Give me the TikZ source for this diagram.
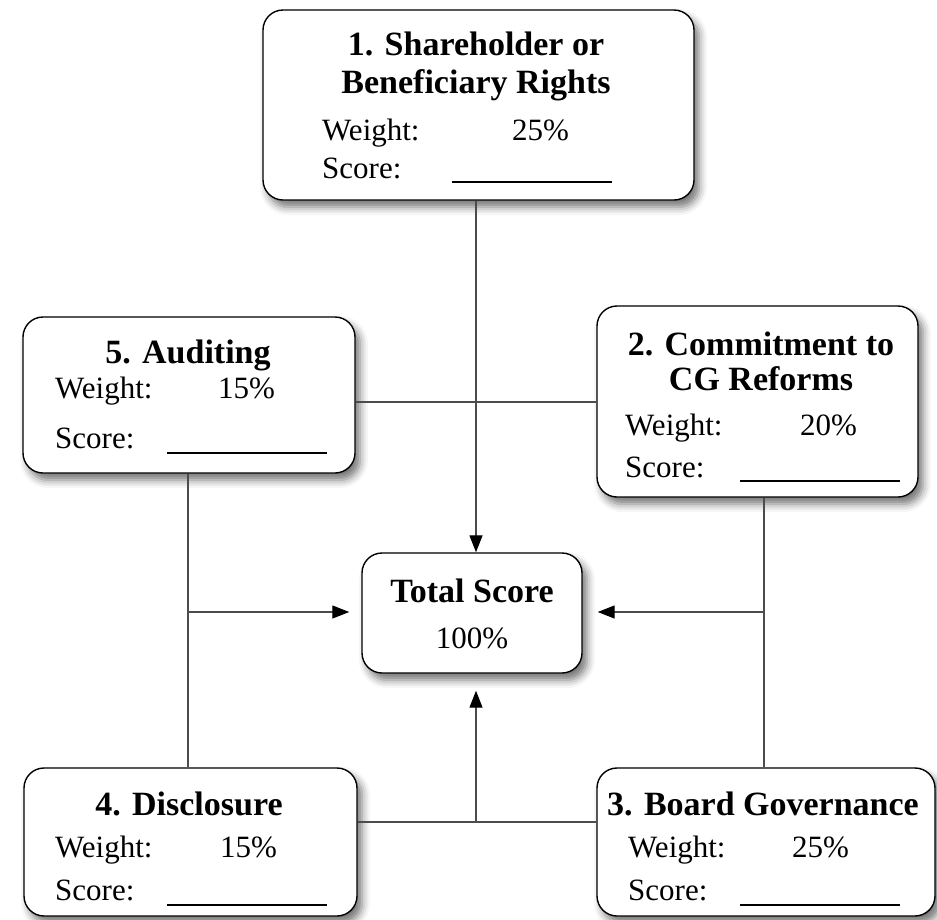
\documentclass[tikz,border=0pt]{standalone}
\usepackage{fontspec}
\setmainfont{Liberation Serif}
\usetikzlibrary{arrows.meta,shadows.blur}
\begin{document}
\begin{tikzpicture}[x=1pt,y=-1pt,
  box/.style={draw=black, line width=1.4pt, fill=white, rounded corners=20pt, inner sep=0pt,
    blur shadow={shadow xshift=5pt, shadow yshift=-7pt, shadow blur radius=8pt, shadow opacity=55}},
  ttl/.style={font=\fontsize{34}{38}\bfseries\selectfont, inner sep=0pt, anchor=base},
  txt/.style={font=\fontsize{31}{36}\selectfont, inner sep=0pt, anchor=base west},
  conn/.style={draw=black!70, line width=1.3pt},
  arr/.style={conn, -{Triangle[length=17pt,width=13pt,fill=black,color=black]}},
  blank/.style={draw=black, line width=1.3pt}
]
\useasboundingbox (0,0) rectangle (937,919);

% boxes
\node[box, minimum width=431pt, minimum height=190pt] (b1) at (478.5,105) {};
\node[box, minimum width=332pt, minimum height=156pt] (b5) at (189,395) {};
\node[box, minimum width=321pt, minimum height=191pt] (b2) at (757.5,401.5) {};
\node[box, minimum width=220pt, minimum height=120pt] (tot) at (472,613) {};
\node[box, minimum width=333pt, minimum height=148pt] (b4) at (190.5,842) {};
\node[box, minimum width=338pt, minimum height=148pt] (b3) at (766,842) {};

% helper coordinates
\coordinate (h1) at (0,402);
\coordinate (h2) at (0,822);
\coordinate (vl) at (188,0);
\coordinate (vm) at (476,0);
\coordinate (vr) at (764,0);

% connectors
\draw[arr] (vm |- b1.south) -- (vm |- tot.north);
\draw[conn] (b5.east |- h1) -- (b2.west |- h1);
\draw[conn] (vl |- b5.south) -- (vl |- b4.north);
\draw[arr, shorten >=12pt] (vl |- 0,612) -- (tot.west |- 0,612);
\draw[conn] (vr |- b2.south) -- (vr |- b3.north);
\draw[arr, shorten >=15pt] (vr |- 0,612) -- (tot.east |- 0,612);
\draw[conn] (b4.east |- h2) -- (b3.west |- h2);
\draw[arr, shorten >=17pt] (vm |- h2) -- (vm |- tot.south);

% box 1
\node[ttl] (t1a) at (476,55) {1. Shareholder or};
\node[ttl] (t1b) at (476,93) {Beneficiary Rights};
\node[txt] (w1) at (322,140) {Weight:};
\node[txt] (p1) at (512,140) {25\%};
\node[txt] (s1) at (322,178) {Score:};
\draw[blank] (452,182) -- (612,182);

% box 5
\node[ttl] (t5) at (188,363) {5. Auditing};
\node[txt] (w5) at (55,398) {Weight:};
\node[txt] (p5) at (218,398) {15\%};
\node[txt] (s5) at (55,448) {Score:};
\draw[blank] (167,453) -- (327,453);

% box 2
\node[ttl] (t2a) at (761,355) {2. Commitment to};
\node[ttl] (t2b) at (761,390) {CG Reforms};
\node[txt] (w2) at (625,435) {Weight:};
\node[txt] (p2) at (800,435) {20\%};
\node[txt] (s2) at (625,477) {Score:};
\draw[blank] (740,481) -- (900,481);

% total
\node[ttl] (tt) at (472,602) {Total Score};
\node[txt, anchor=base] (tp) at (472,648) {100\%};

% box 4
\node[ttl] (t4) at (189,815) {4. Disclosure};
\node[txt] (w4) at (55,857) {Weight:};
\node[txt] (p4) at (220,857) {15\%};
\node[txt] (s4) at (55,900) {Score:};
\draw[blank] (167,905) -- (327,905);

% box 3
\node[ttl] (t3) at (763,815) {3. Board Governance};
\node[txt] (w3) at (628,857) {Weight:};
\node[txt] (p3) at (792,857) {25\%};
\node[txt] (s3) at (628,900) {Score:};
\draw[blank] (740,905) -- (900,905);
\end{tikzpicture}
\end{document}
